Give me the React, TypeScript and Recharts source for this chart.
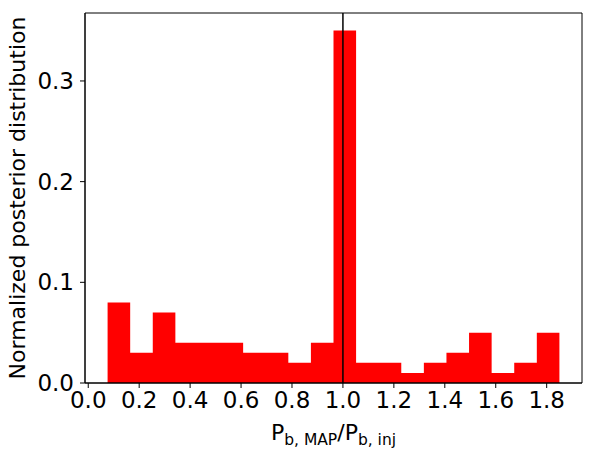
import React from 'react';
import { ComposedChart, Area, XAxis, YAxis, ReferenceLine, ReferenceArea } from 'recharts';

// histogram bin edges (21) and normalized counts per bin (20)
const binEdges = [
  0.076, 0.1647, 0.2534, 0.3421, 0.4308, 0.5195, 0.6082, 0.6969, 0.7856, 0.8743,
  0.963, 1.0517, 1.1404, 1.2291, 1.3178, 1.4065, 1.4952, 1.5839, 1.6726, 1.7613, 1.85,
];
const binValues = [
  0.08, 0.03, 0.07, 0.04, 0.04, 0.04, 0.03, 0.03, 0.02, 0.04,
  0.35, 0.02, 0.02, 0.01, 0.02, 0.03, 0.05, 0.01, 0.02, 0.05,
];
const xTicks = [0, 0.2, 0.4, 0.6, 0.8, 1.0, 1.2, 1.4, 1.6, 1.8];
const yTicks = [0, 0.1, 0.2, 0.3];
const injectedRatio = 1.0;

const FONT = 'DejaVu Sans';

const data = binEdges.map((x, i) => ({
  x,
  v: binValues[Math.min(i, binValues.length - 1)],
}));

const lo = binEdges[0];
const hi = binEdges[binEdges.length - 1];
const pad = (hi - lo) * 0.05;
const xDomain: [number, number] = [lo - pad, hi + pad];
const yMax = Math.max(...binValues) * 1.05;

const XLabel = (props: any) => {
  const vb = props.viewBox || {};
  const cx = vb.x + vb.width / 2;
  return (
    <text x={cx} y={440} textAnchor="middle" fontFamily={FONT} fontSize={22} fill="#000">
      P
      <tspan fontSize={15.5} dy={5}>b, MAP</tspan>
      <tspan dy={-5}>/P</tspan>
      <tspan fontSize={15.5} dy={5}>b, inj</tspan>
    </text>
  );
};

const YLabel = (props: any) => {
  const vb = props.viewBox || {};
  const cy = vb.y + vb.height / 2;
  return (
    <text
      x={17}
      y={cy}
      transform={`rotate(-90, 17, ${cy})`}
      textAnchor="middle"
      dominantBaseline="central"
      fontFamily={FONT}
      fontSize={22}
      fill="#000"
    >
      Normalized posterior distribution
    </text>
  );
};

export default function App() {
  return (
    <div style={{ position: 'absolute', left: 0, top: 0, background: '#fff' }}>
      <ComposedChart width={594} height={459} data={data} margin={{ top: 13, right: 12, left: 0, bottom: 0 }}>
        <XAxis
          dataKey="x"
          type="number"
          domain={xDomain}
          ticks={xTicks}
          tickFormatter={(v: number) => v.toFixed(1)}
          height={76}
          tickSize={5}
          tickMargin={4}
          stroke="#000"
          tick={{ fill: '#000', fontSize: 23, fontFamily: FONT }}
          interval={0}
          allowDataOverflow
          label={<XLabel />}
        />
        <YAxis
          type="number"
          domain={[0, yMax]}
          ticks={yTicks}
          tickFormatter={(v: number) => v.toFixed(1)}
          width={85}
          tickSize={5}
          tickMargin={6}
          stroke="#000"
          tick={{ fill: '#000', fontSize: 23, fontFamily: FONT }}
          interval={0}
          allowDataOverflow
          label={<YLabel />}
        />
        <Area
          dataKey="v"
          type="stepAfter"
          fill="#ff0000"
          fillOpacity={1}
          stroke="none"
          isAnimationActive={false}
          dot={false}
          activeDot={false}
        />
        <ReferenceLine x={injectedRatio} stroke="#000" strokeWidth={1.5} />
        <ReferenceArea
          x1={xDomain[0]}
          x2={xDomain[1]}
          y1={0}
          y2={yMax}
          fill="none"
          stroke="#000"
          strokeWidth={1}
          strokeOpacity={1}
        />
      </ComposedChart>
    </div>
  );
}
